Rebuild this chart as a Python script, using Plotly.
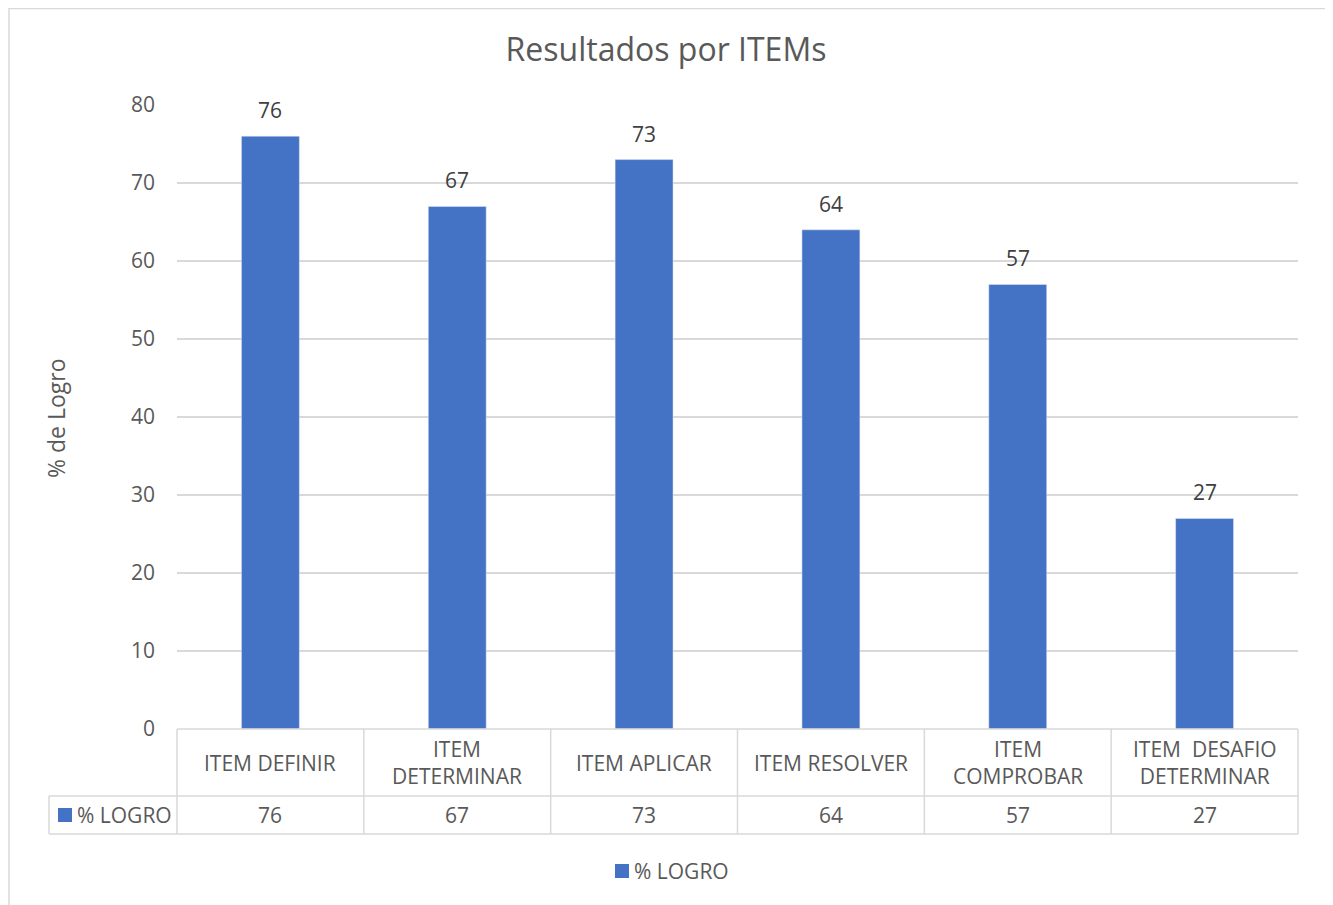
import plotly.graph_objects as go

categories = ["ITEM DEFINIR", "ITEM DETERMINAR", "ITEM APLICAR", "ITEM RESOLVER",
              "ITEM COMPROBAR", "ITEM  DESAFIO DETERMINAR"]
table_labels = ["ITEM DEFINIR", "ITEM<br>DETERMINAR", "ITEM APLICAR", "ITEM RESOLVER",
                "ITEM<br>COMPROBAR", "ITEM&nbsp; DESAFIO<br>DETERMINAR"]
logro = [76, 67, 73, 64, 57, 27]
series_name = "% LOGRO"
y_ticks = [0, 10, 20, 30, 40, 50, 60, 70, 80]

OFF = 8  # page body margin
W, H = 1333 - OFF, 905 - OFF
# plot area in page pixel coordinates
L, R, T, B = 177, 1298, 105, 729
PW, PH = R - L, B - T


def px(x):
    return (x - L) / PW


def py(y):
    return (B - y) / PH


FONT = "Open Sans"
TXT = "#595959"
GRID = "#d9d9d9"
BLUE = "#4472C4"
FS = 21

fig = go.Figure()
fig.add_trace(go.Bar(
    x=categories, y=logro, name=series_name, marker_color=BLUE,
    width=0.31, showlegend=False,
))

shapes = []
annotations = []
n = len(categories)
row1_bot, row2_bot = 796, 834
leg_left = 49

# data labels
for c, v in zip(categories, logro):
    annotations.append(dict(xref="x", yref="y", x=c, y=v, text=str(v), showarrow=False,
                            xanchor="center", yanchor="middle", yshift=26,
                            font=dict(family=FONT, size=FS, color="#404040")))

# horizontal lines of table
line_style = dict(color=GRID, width=1.5)
shapes.append(dict(type="line", xref="paper", yref="paper", x0=0, x1=1, y0=py(B), y1=py(B),
                   line=line_style))
for yy in (row1_bot, row2_bot):
    shapes.append(dict(type="line", xref="paper", yref="paper", x0=px(leg_left), x1=1,
                       y0=py(yy), y1=py(yy), line=line_style))
# vertical lines
shapes.append(dict(type="line", xref="paper", yref="paper", x0=px(leg_left), x1=px(leg_left),
                   y0=py(row1_bot), y1=py(row2_bot), line=line_style))
for i in range(n + 1):
    xv = i / n
    shapes.append(dict(type="line", xref="paper", yref="paper", x0=xv, x1=xv,
                       y0=py(B), y1=py(row2_bot), line=line_style))
# legend key in table
shapes.append(dict(type="rect", xref="paper", yref="paper", x0=px(58), x1=px(72),
                   y0=py(822), y1=py(808), fillcolor=BLUE, line=dict(width=0)))
annotations.append(dict(xref="paper", yref="paper", x=px(75), y=py((row1_bot + row2_bot) / 2),
                        text=series_name, showarrow=False, xanchor="left", yanchor="middle",
                        font=dict(family=FONT, size=FS, color=TXT)))
for i, (lab, v) in enumerate(zip(table_labels, logro)):
    cx = (i + 0.5) / n
    annotations.append(dict(xref="paper", yref="paper", x=cx, y=py((B + row1_bot) / 2),
                            text=lab, showarrow=False, xanchor="center", yanchor="middle",
                            font=dict(family=FONT, size=FS, color=TXT)))
    annotations.append(dict(xref="paper", yref="paper", x=cx, y=py((row1_bot + row2_bot) / 2),
                            text=str(v), showarrow=False, xanchor="center", yanchor="middle",
                            font=dict(family=FONT, size=FS, color=TXT)))

# bottom legend (drawn manually)
shapes.append(dict(type="rect", xref="paper", yref="paper", x0=px(615), x1=px(629),
                   y0=py(878), y1=py(864), fillcolor=BLUE, line=dict(width=0)))
annotations.append(dict(xref="paper", yref="paper", x=px(632), y=py(871),
                        text=series_name, showarrow=False, xanchor="left", yanchor="middle",
                        font=dict(family=FONT, size=FS, color=TXT)))

# y axis title
annotations.append(dict(xref="paper", yref="paper", x=px(56), y=py(418), text="% de Logro",
                        textangle=-90, showarrow=False, xanchor="center", yanchor="middle",
                        font=dict(family=FONT, size=23, color=TXT)))
# outer border
shapes.append(dict(type="rect", xref="paper", yref="paper", x0=px(OFF + 1), x1=px(1329),
                   y0=py(912), y1=py(OFF + 0.5), line=line_style, fillcolor="rgba(0,0,0,0)"))

fig.update_layout(
    width=W, height=H,
    margin=dict(l=L - OFF, r=W - (R - OFF), t=T - OFF, b=H - (B - OFF), pad=0),
    paper_bgcolor="white", plot_bgcolor="white",
    title=dict(text="Resultados por ITEMs", x=px(666), xref="paper",
               y=1 - (50 - OFF) / H, yref="container", xanchor="center", yanchor="middle",
               font=dict(family=FONT, size=32, color=TXT)),
    showlegend=False,
    xaxis=dict(showticklabels=False, showgrid=False, showline=False, zeroline=False,
               range=[-0.5, n - 0.5]),
    yaxis=dict(range=[0, 80], tickvals=y_ticks, showgrid=True, gridcolor=GRID, gridwidth=1.5,
               zeroline=False, showline=False, ticks="", ticklabelstandoff=21,
               tickfont=dict(family=FONT, size=FS, color=TXT)),
    shapes=shapes, annotations=annotations,
)

fig.write_html("out.html")
